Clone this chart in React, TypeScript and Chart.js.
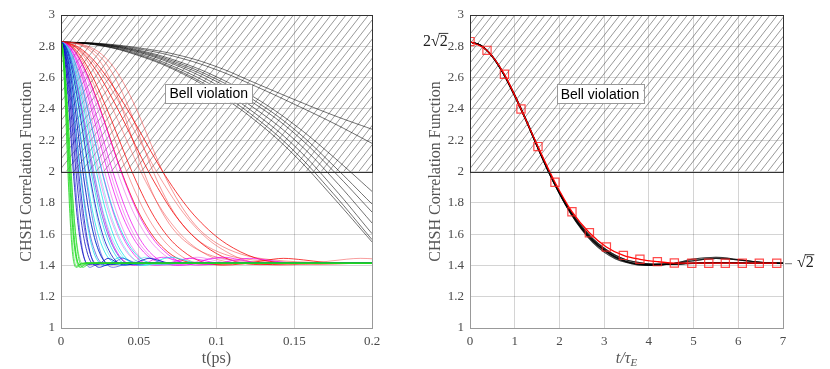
import React, { useEffect, useRef } from "react";
import { Chart, registerables } from "chart.js";
Chart.register(...registerables);

const SERIF = '"Liberation Serif", "Times New Roman", serif';
const SANS = '"Liberation Sans", Arial, sans-serif';

// ---------- data ----------
// universal decay shape, abscissa in units of tau_E
const shapeS = [0, 0.25, 0.5, 0.75, 1, 1.25, 1.5, 1.75, 2, 2.25, 2.5, 2.75, 3, 3.25, 3.5, 3.75, 4, 4.5, 5, 5.5, 6, 6.5, 7, 80];
const shapeMain = [2.828, 2.804, 2.735, 2.625, 2.485, 2.33, 2.165, 2.005, 1.865, 1.74, 1.64, 1.56, 1.5, 1.455, 1.425, 1.41, 1.405, 1.408, 1.415, 1.418, 1.416, 1.414, 1.414, 1.414];
const shapeBump = [2.828, 2.803, 2.733, 2.622, 2.48, 2.325, 2.16, 2.0, 1.858, 1.732, 1.628, 1.545, 1.485, 1.443, 1.418, 1.403, 1.4, 1.41, 1.44, 1.452, 1.438, 1.42, 1.415, 1.414];
const shapeSmooth = [2.828, 2.806, 2.74, 2.632, 2.495, 2.34, 2.178, 2.02, 1.88, 1.757, 1.655, 1.575, 1.515, 1.47, 1.445, 1.43, 1.42, 1.415, 1.414, 1.414, 1.414, 1.414, 1.414, 1.414];
const shapeDeep = [2.828, 2.8, 2.728, 2.615, 2.47, 2.31, 2.14, 1.975, 1.83, 1.7, 1.59, 1.505, 1.445, 1.41, 1.392, 1.388, 1.392, 1.405, 1.414, 1.414, 1.414, 1.414, 1.414, 1.414];
const shapeMid = [2.828, 2.803, 2.734, 2.623, 2.482, 2.327, 2.162, 2.002, 1.86, 1.735, 1.633, 1.553, 1.495, 1.45, 1.422, 1.407, 1.402, 1.41, 1.43, 1.445, 1.435, 1.42, 1.414, 1.414];
const shapeHigh = [2.828, 2.805, 2.737, 2.628, 2.49, 2.335, 2.17, 2.01, 1.87, 1.748, 1.65, 1.57, 1.51, 1.465, 1.435, 1.42, 1.41, 1.408, 1.412, 1.415, 1.415, 1.414, 1.414, 1.414];
const shapeSlow = [2.828, 2.824, 2.805, 2.765, 2.69, 2.57, 2.41, 2.22, 2.03, 1.87, 1.74, 1.64, 1.57, 1.52, 1.485, 1.46, 1.445, 1.428, 1.42, 1.416, 1.414, 1.414, 1.414, 1.414];

// decoherence times (ps) of the curves in the left panel
const tauGreen = [0.0026, 0.0028, 0.003, 0.0032, 0.0034, 0.0036, 0.0038];
const tauBlue = [0.0045, 0.005, 0.0055, 0.006, 0.0066, 0.0072, 0.008, 0.009, 0.0103, 0.0115];
const tauCyan = [0.007, 0.008, 0.009, 0.01, 0.011, 0.012, 0.013, 0.014, 0.015];
const tauMagenta = [0.012, 0.0135, 0.015, 0.016, 0.017, 0.018, 0.019, 0.0205, 0.022];
const tauRed = [0.022, 0.024, 0.026, 0.029, 0.032, 0.035, 0.037];
const tauRedSlow = [0.026, 0.029, 0.032];

// slow (black) curves in the left panel
const blackT = [0, 0.025, 0.05, 0.075, 0.1, 0.125, 0.15, 0.175, 0.2];
const black1 = [2.828, 2.818, 2.79, 2.745, 2.67, 2.565, 2.46, 2.36, 2.27];
const black2 = [2.828, 2.816, 2.783, 2.73, 2.65, 2.545, 2.43, 2.31, 2.18];
const black3 = [2.828, 2.815, 2.775, 2.705, 2.605, 2.47, 2.3, 2.095, 1.873];
const black4 = [2.828, 2.813, 2.77, 2.695, 2.59, 2.45, 2.27, 2.04, 1.792];
const black5 = [2.828, 2.812, 2.765, 2.685, 2.575, 2.43, 2.245, 2.005, 1.741];
const black6 = [2.828, 2.81, 2.76, 2.675, 2.555, 2.4, 2.205, 1.955, 1.671];
const black7 = [2.828, 2.808, 2.752, 2.66, 2.535, 2.37, 2.165, 1.9, 1.603];
const black8 = [2.828, 2.806, 2.745, 2.648, 2.515, 2.345, 2.13, 1.86, 1.565];
const black9 = [2.828, 2.805, 2.74, 2.64, 2.5, 2.325, 2.105, 1.835, 1.55];

// right panel: analytic fit (red squares)
const fitT = [0, 0.38, 0.77, 1.14, 1.52, 1.9, 2.28, 2.67, 3.05, 3.43, 3.8, 4.19, 4.57, 4.96, 5.34, 5.71, 6.09, 6.47, 6.86];
const fitY = [2.83, 2.774, 2.621, 2.399, 2.159, 1.931, 1.743, 1.609, 1.518, 1.464, 1.439, 1.424, 1.415, 1.414, 1.414, 1.414, 1.414, 1.414, 1.414];

const leftXTicks = [0, 0.05, 0.1, 0.15, 0.2];
const rightXTicks = [0, 1, 2, 3, 4, 5, 6, 7];

// ---------- helpers ----------
const fmt = (v: number) => String(Number(v.toFixed(3)));

function shapeData(shape: number[], tau: number, maxS = 1e9) {
  const out: { x: number; y: number }[] = [];
  shapeS.forEach((s, i) => {
    if (s <= maxS) out.push({ x: s * tau, y: shape[i] });
  });
  return out;
}

function lineDs(data: any[], color: string, width = 0.8, smooth = false) {
  return {
    data,
    borderColor: color,
    borderWidth: width,
    pointRadius: 0,
    fill: false,
    ...(smooth ? { tension: 0.4 } : { cubicInterpolationMode: "monotone" as const }),
  };
}

function decorPlugin(cfg: { box: { x: number; y: number }; xTitle: "ps" | "tau"; extraLabels: boolean }) {
  return {
    id: "decor",
    beforeDatasetsDraw(chart: any) {
      const { ctx, chartArea: a, scales } = chart;
      const yTop = scales.y.getPixelForValue(3);
      const yBot = scales.y.getPixelForValue(2);
      ctx.save();
      ctx.beginPath();
      ctx.rect(a.left, yTop, a.right - a.left, yBot - yTop);
      ctx.clip();
      ctx.strokeStyle = "rgba(60,60,60,0.75)";
      ctx.lineWidth = 0.7;
      const h = yBot - yTop;
      const slant = h / Math.tan((52 * Math.PI) / 180);
      for (let xs = a.left - slant; xs < a.right + 10; xs += 7.5) {
        ctx.beginPath();
        ctx.moveTo(xs, yBot);
        ctx.lineTo(xs + slant, yTop);
        ctx.stroke();
      }
      ctx.restore();
    },
    afterDatasetsDraw(chart: any) {
      const { ctx, chartArea: a, scales } = chart;
      const yTop = scales.y.getPixelForValue(3);
      const yBot = scales.y.getPixelForValue(2);
      ctx.save();
      ctx.strokeStyle = "#999";
      ctx.lineWidth = 1;
      ctx.beginPath();
      ctx.moveTo(Math.round(a.right) + 0.5, a.top);
      ctx.lineTo(Math.round(a.right) + 0.5, a.bottom);
      ctx.stroke();
      ctx.strokeStyle = "#333";
      ctx.strokeRect(Math.round(a.left) + 0.5, Math.round(yTop) + 0.5, Math.round(a.right - a.left), Math.round(yBot - yTop));
      // Bell violation box
      const bx = scales.x.getPixelForValue(cfg.box.x);
      const by = scales.y.getPixelForValue(cfg.box.y);
      ctx.font = `14px ${SANS}`;
      const tw = ctx.measureText("Bell violation").width;
      const bw = tw + 8;
      const bh = 19;
      ctx.fillStyle = "#fff";
      ctx.fillRect(bx - bw / 2, by - bh / 2, bw, bh);
      ctx.strokeStyle = "#999";
      ctx.strokeRect(Math.round(bx - bw / 2) + 0.5, Math.round(by - bh / 2) + 0.5, Math.round(bw), bh);
      ctx.fillStyle = "#000";
      ctx.textAlign = "center";
      ctx.textBaseline = "middle";
      ctx.fillText("Bell violation", bx, by + 1);

      // axis titles
      ctx.fillStyle = "#555";
      ctx.save();
      ctx.translate(a.left - 34, (a.top + a.bottom) / 2);
      ctx.rotate(-Math.PI / 2);
      ctx.font = `16px ${SERIF}`;
      ctx.textAlign = "center";
      ctx.textBaseline = "middle";
      ctx.fillText("CHSH Correlation Function", 0, 0);
      ctx.restore();

      const cx = (a.left + a.right) / 2;
      const ty = a.bottom + 31;
      ctx.textBaseline = "middle";
      if (cfg.xTitle === "ps") {
        ctx.font = `16px ${SERIF}`;
        ctx.textAlign = "center";
        ctx.fillText("t(ps)", cx, ty);
      } else {
        ctx.font = `italic 16px ${SERIF}`;
        const p1 = "t/τ";
        const w1 = ctx.measureText(p1).width;
        ctx.font = `italic 11px ${SERIF}`;
        const w2 = ctx.measureText("E").width;
        const x0 = cx - (w1 + w2) / 2;
        ctx.textAlign = "left";
        ctx.font = `italic 16px ${SERIF}`;
        ctx.fillText(p1, x0, ty);
        ctx.font = `italic 11px ${SERIF}`;
        ctx.fillText("E", x0 + w1, ty + 4);
      }

      if (cfg.extraLabels) {
        ctx.fillStyle = "#222";
        ctx.strokeStyle = "#222";
        ctx.font = `16px ${SERIF}`;
        ctx.textAlign = "left";
        ctx.textBaseline = "middle";
        const y28 = scales.y.getPixelForValue(2.828);
        let x = 8;
        ctx.fillText("2√", x, y28);
        const wa = ctx.measureText("2√").width;
        const w2 = ctx.measureText("2").width;
        ctx.fillText("2", x + wa, y28);
        ctx.lineWidth = 0.9;
        ctx.beginPath();
        ctx.moveTo(x + wa - 1, y28 - 8.5);
        ctx.lineTo(x + wa + w2 + 0.5, y28 - 8.5);
        ctx.stroke();
        const y14 = scales.y.getPixelForValue(1.414);
        ctx.strokeStyle = "#666";
        ctx.beginPath();
        ctx.moveTo(a.right + 2, y14 + 0.5);
        ctx.lineTo(a.right + 9, y14 + 0.5);
        ctx.stroke();
        x = a.right + 14;
        ctx.fillText("√", x, y14);
        const wr = ctx.measureText("√").width;
        ctx.fillText("2", x + wr, y14);
        ctx.strokeStyle = "#222";
        ctx.beginPath();
        ctx.moveTo(x + wr - 1, y14 - 8.5);
        ctx.lineTo(x + wr + w2 + 0.5, y14 - 8.5);
        ctx.stroke();
      }
      ctx.restore();
    },
  };
}

function baseOptions(xTicks: number[], yAxisWidth: number, padRight: number) {
  const xMax = xTicks[xTicks.length - 1];
  return {
    responsive: false,
    animation: false as const,
    devicePixelRatio: 1,
    layout: { padding: { left: 0, right: padRight, top: 15, bottom: 0 } },
    plugins: { legend: { display: false }, tooltip: { enabled: false } },
    scales: {
      x: {
        type: "linear" as const,
        min: 0,
        max: xMax,
        afterBuildTicks: (s: any) => {
          s.ticks = xTicks.map((v) => ({ value: v }));
        },
        afterFit: (s: any) => {
          s.height = 41;
        },
        grid: { color: "rgba(0,0,0,0.17)", drawTicks: false, lineWidth: 1 },
        border: { display: true, color: "#999", width: 1 },
        ticks: {
          padding: 6,
          color: "#4a4a4a",
          font: { family: SERIF, size: 13 },
          maxRotation: 0,
          callback: (v: any) => fmt(Number(v)),
        },
      },
      y: {
        type: "linear" as const,
        min: 1,
        max: 3,
        afterBuildTicks: (s: any) => {
          const t = [];
          for (let i = 0; i <= 10; i++) t.push({ value: Number((1 + i * 0.2).toFixed(1)) });
          s.ticks = t;
        },
        afterFit: (s: any) => {
          s.width = yAxisWidth;
        },
        grid: { color: "rgba(0,0,0,0.17)", drawTicks: false, lineWidth: 1 },
        border: { display: true, color: "#999", width: 1 },
        ticks: {
          padding: 6,
          color: "#4a4a4a",
          font: { family: SERIF, size: 13 },
          callback: (v: any) => fmt(Number(v)),
        },
      },
    },
  };
}

function buildLeft() {
  const ds: any[] = [];
  const groups: { taus: number[]; shapes: number[][]; colors: string[] }[] = [
    { taus: tauGreen, shapes: [shapeDeep, shapeDeep, shapeMain], colors: ["rgba(20,215,20,0.85)", "rgba(60,225,60,0.7)"] },
    { taus: tauBlue, shapes: [shapeMain, shapeDeep, shapeMid], colors: ["rgba(0,0,190,0.85)", "rgba(30,30,210,0.65)"] },
    { taus: tauCyan, shapes: [shapeBump, shapeMain, shapeHigh], colors: ["rgba(0,220,230,0.8)", "rgba(60,230,235,0.6)"] },
    { taus: tauMagenta, shapes: [shapeBump, shapeHigh, shapeMid], colors: ["rgba(240,0,240,0.8)", "rgba(230,60,230,0.55)"] },
    { taus: tauRed, shapes: [shapeHigh, shapeMain, shapeMid], colors: ["rgba(245,0,0,0.85)", "rgba(240,40,40,0.5)"] },
    { taus: tauRedSlow, shapes: [shapeSlow], colors: ["rgba(240,40,40,0.55)"] },
  ];
  groups.forEach((g) => {
    g.taus.forEach((tau, i) => {
      ds.push(lineDs(shapeData(g.shapes[i % g.shapes.length], tau), g.colors[i % g.colors.length], 0.9));
    });
  });
  [black1, black2, black3, black4, black5, black6, black7, black8, black9].forEach((arr) => {
    ds.push(lineDs(blackT.map((t, i) => ({ x: t, y: arr[i] })), "rgba(0,0,0,0.7)", 0.8, true));
  });
  return ds;
}

function buildRight() {
  const ds: any[] = [];
  const fit = fitT.map((t, i) => ({ x: t, y: fitY[i] }));
  ds.push({
    data: fit,
    showLine: false,
    pointStyle: "rect",
    pointRadius: 5.8,
    borderColor: "rgba(255,30,30,0.8)",
    backgroundColor: "rgba(0,0,0,0)",
    pointBorderWidth: 1.2,
  });
  ds.push(lineDs(fit, "rgba(255,0,0,1)", 1.3));
  [shapeMain, shapeBump, shapeHigh, shapeMid, shapeMain, shapeMid, shapeHigh, shapeMain, shapeBump, shapeMain, shapeMid, shapeHigh].forEach((shape) => {
    ds.push(lineDs(shapeData(shape, 1, 7), "rgba(0,0,0,0.5)", 1.1));
  });
  return ds;
}

function Panel(props: { side: "left" | "right" }) {
  const ref = useRef<HTMLCanvasElement | null>(null);
  useEffect(() => {
    if (!ref.current) return;
    const left = props.side === "left";
    const options = left ? baseOptions(leftXTicks, 61, 43) : baseOptions(rightXTicks, 55, 47);
    const chart = new Chart(ref.current, {
      type: "line",
      data: { datasets: left ? buildLeft() : buildRight() },
      options: options as any,
      plugins: [
        decorPlugin(
          left
            ? { box: { x: 0.095, y: 2.5 }, xTitle: "ps", extraLabels: false }
            : { box: { x: 2.906, y: 2.497 }, xTitle: "tau", extraLabels: true }
        ) as any,
      ],
    });
    return () => chart.destroy();
  }, [props.side]);
  return (
    <canvas
      ref={ref}
      width={415}
      height={369}
      style={{ position: "absolute", left: props.side === "left" ? 0 : 415, top: 0, width: 415, height: 369 }}
    />
  );
}

export default function App() {
  return (
    <div style={{ position: "absolute", left: 0, top: 0, width: 830, height: 369, background: "#fff", overflow: "hidden" }}>
      <Panel side="left" />
      <Panel side="right" />
    </div>
  );
}
